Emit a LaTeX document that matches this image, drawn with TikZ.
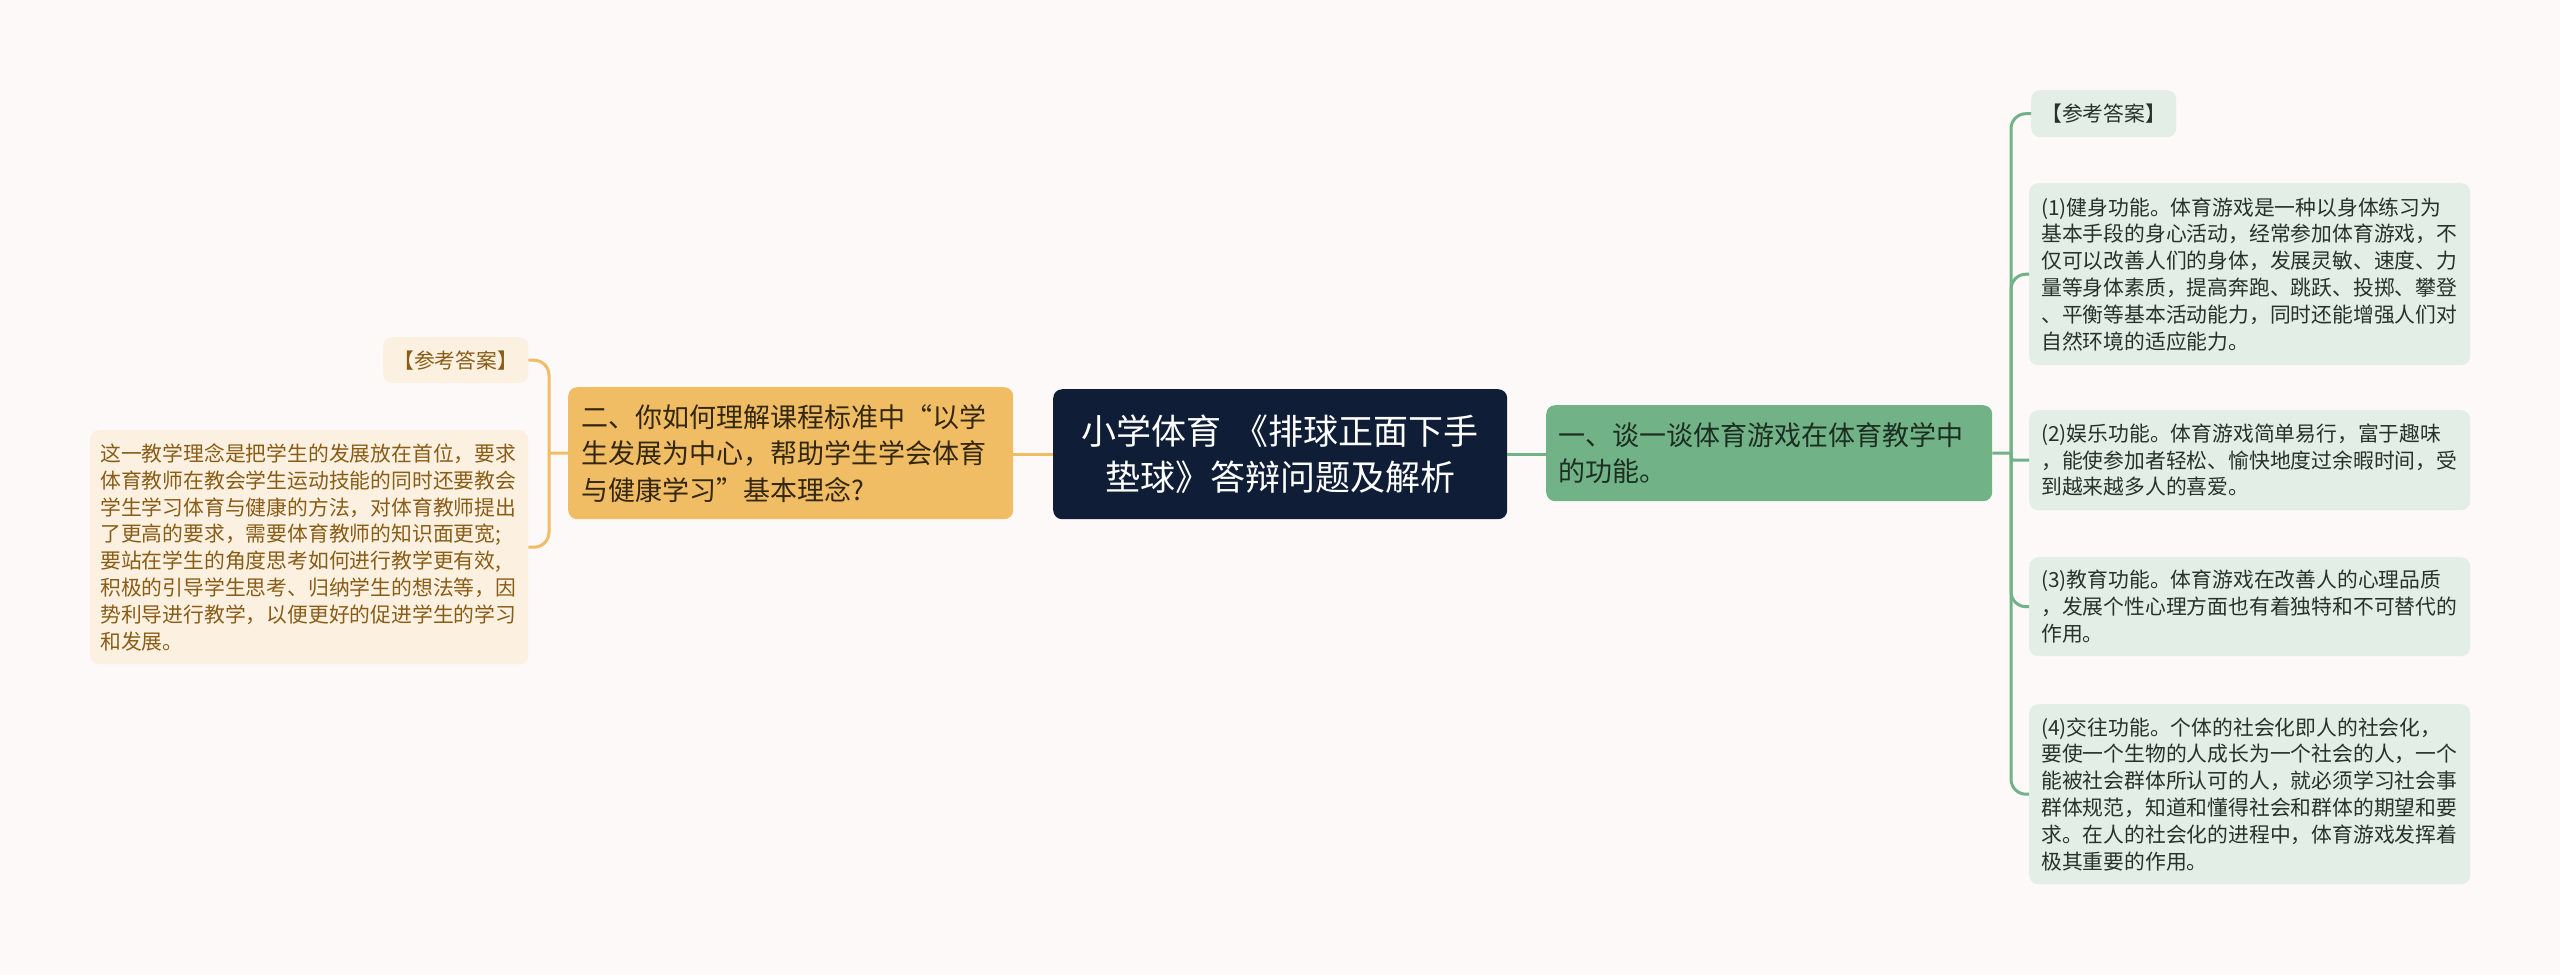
\documentclass[tikz,border=0pt]{standalone}
\usepackage{fontspec}
\setmainfont{Noto Sans CJK SC}
\definecolor{bg}{HTML}{FDF9F8}
\definecolor{navy}{HTML}{0F1E36}
\definecolor{orangefill}{HTML}{F0BD64}
\definecolor{orangetext}{HTML}{33270F}
\definecolor{creamfill}{HTML}{FCF1E1}
\definecolor{creamtext}{HTML}{8A5D17}
\definecolor{greenfill}{HTML}{72B287}
\definecolor{greentext}{HTML}{1C2E22}
\definecolor{mintfill}{HTML}{E3EFE6}
\definecolor{minttext}{HTML}{26332A}
\tikzset{
  basebox/.style={anchor=north west, rounded corners=9pt, inner xsep=0pt, inner ysep=0pt},
  rootbox/.style={basebox, fill=navy, text=white, align=center,
    font={\fontsize{35pt}{46pt}\selectfont}},
  orangebox/.style={basebox, fill=orangefill, text=orangetext, align=left,
    font={\fontsize{27pt}{36.5pt}\selectfont}},
  greenbox/.style={basebox, fill=greenfill, text=greentext, align=left,
    font={\fontsize{27pt}{36.5pt}\selectfont}},
  creambox/.style={basebox, fill=creamfill, text=creamtext, align=left,
    font={\fontsize{20.8pt}{26.8pt}\selectfont}},
  mintbox/.style={basebox, fill=mintfill, text=minttext, align=left,
    font={\fontsize{20.8pt}{26.8pt}\selectfont}},
  oline/.style={draw=orangefill, line width=3pt},
  gline/.style={draw=greenfill, line width=3pt},
}
\begin{document}
\begin{tikzpicture}[x=1pt,y=-1pt]
\fill[bg] (0,0) rectangle (2560,975);
\useasboundingbox (0,0) rectangle (2560,975);

% root
\node[rootbox, minimum width=454pt, minimum height=130pt, text width=440pt] (root) at (1053,389)
  {小学体育 《排球正面下手\\垫球》答辩问题及解析};

% left main
\node[orangebox, minimum width=445pt, minimum height=132pt, text width=419pt] (q2) at (568,387)
  {二、你如何理解课程标准中“以学\\生发展为中心，帮助学生学会体育\\与健康学习”基本理念?};

\node[creambox, minimum width=145pt, minimum height=46pt, text width=125pt, align=center] (refL) at (383,337)
  {【参考答案】};
\node[creambox, minimum width=438pt, minimum height=234pt, text width=418pt] (ansL) at (90,430)
  {这一教学理念是把学生的发展放在首位，要求\\
   体育教师在教会学生运动技能的同时还要教会\\
   学生学习体育与健康的方法，对体育教师提出\\
   了更高的要求，需要体育教师的知识面更宽;\\
   要站在学生的角度思考如何进行教学更有效,\\
   积极的引导学生思考、归纳学生的想法等，因\\
   势利导进行教学，以便更好的促进学生的学习\\
   和发展。};

% right main
\node[greenbox, minimum width=446pt, minimum height=96pt, text width=422pt] (q1) at (1546,405)
  {一、谈一谈体育游戏在体育教学中\\的功能。};

\node[mintbox, minimum width=145pt, minimum height=47pt, text width=125pt, align=center] (refR) at (2031,90)
  {【参考答案】};
\node[mintbox, minimum width=441pt, minimum height=182pt, text width=417pt] (a1) at (2029,183)
  {(1)健身功能。体育游戏是一种以身体练习为\\
   基本手段的身心活动，经常参加体育游戏，不\\
   仅可以改善人们的身体，发展灵敏、速度、力\\
   量等身体素质，提高奔跑、跳跃、投掷、攀登\\
   、平衡等基本活动能力，同时还能增强人们对\\
   自然环境的适应能力。};
\node[mintbox, minimum width=441pt, minimum height=100pt, text width=417pt] (a2) at (2029,410)
  {(2)娱乐功能。体育游戏简单易行，富于趣味\\
   ，能使参加者轻松、愉快地度过余暇时间，受\\
   到越来越多人的喜爱。};
\node[mintbox, minimum width=441pt, minimum height=99pt, text width=417pt] (a3) at (2029,557)
  {(3)教育功能。体育游戏在改善人的心理品质\\
   ，发展个性心理方面也有着独特和不可替代的\\
   作用。};
\node[mintbox, minimum width=441pt, minimum height=180pt, text width=417pt] (a4) at (2029,704)
  {(4)交往功能。个体的社会化即人的社会化，\\
   要使一个生物的人成长为一个社会的人，一个\\
   能被社会群体所认可的人，就必须学习社会事\\
   群体规范，知道和懂得社会和群体的期望和要\\
   求。在人的社会化的进程中，体育游戏发挥着\\
   极其重要的作用。};

% connectors
\coordinate (lj) at (549,453);
\coordinate (rj) at (2011,453);
\draw[oline] (root.west) -- (root.west -| q2.east);
\draw[gline] (root.east) -- (root.east -| q1.west);
\draw[oline] (q2.west) -- (lj);
\draw[oline, rounded corners=15pt] (lj) |- (refL.east);
\draw[oline, rounded corners=15pt] (lj) |- (ansL.east);
\draw[gline] (q1.east) -- (rj);
\draw[gline, rounded corners=15pt] (rj) |- (refR.west);
\draw[gline, rounded corners=15pt] (rj) |- (a1.west);
\draw[gline, rounded corners=3pt] (rj) |- (a2.west);
\draw[gline, rounded corners=15pt] (rj) |- (a3.west);
\draw[gline, rounded corners=15pt] (rj) |- (a4.west);
\end{tikzpicture}
\end{document}
